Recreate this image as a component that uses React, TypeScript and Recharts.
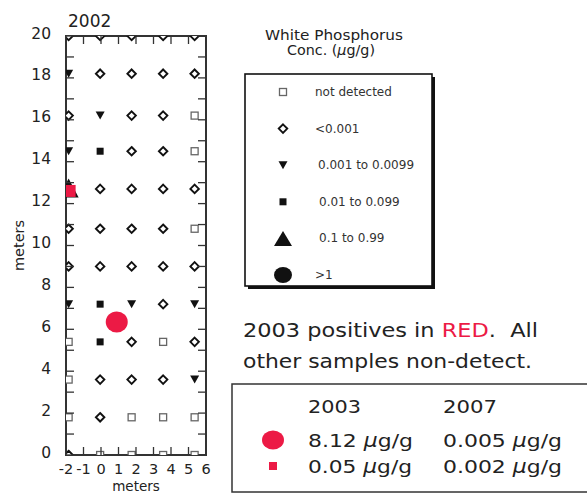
import React from 'react';
import { ScatterChart, Scatter, XAxis, YAxis, ReferenceArea } from 'recharts';

const FONT = '"DejaVu Sans", sans-serif';
const W = 587;
const H = 493;
const PLOT = { left: 66, right: 206, top: 36, bottom: 455 };
const RED = '#ec1a45';

// tick values
const xTicks = [-2, -1, 0, 1, 2, 3, 4, 5, 6];
const yTicks = [0, 1, 2, 3, 4, 5, 6, 7, 8, 9, 10, 11, 12, 13, 14, 15, 16, 17, 18, 19, 20];
const yLabelled = [0, 2, 4, 6, 8, 10, 12, 14, 16, 18, 20];

// 2002 samples, by concentration class (x, y in meters)
const notDetected = [
  { x: 5.35, y: 16.2 }, { x: 5.35, y: 14.5 }, { x: 5.35, y: 10.8 },
  { x: -1.85, y: 5.4 }, { x: 3.55, y: 5.4 },
  { x: -1.85, y: 3.6 },
  { x: -1.85, y: 1.8 }, { x: 1.75, y: 1.8 }, { x: 3.55, y: 1.8 }, { x: 5.35, y: 1.8 },
  { x: -0.05, y: 0 }, { x: 1.75, y: 0 }, { x: 3.55, y: 0 }, { x: 5.35, y: 0 },
];
const below0001 = [
  { x: -1.85, y: 20 }, { x: -0.05, y: 20 }, { x: 1.75, y: 20 }, { x: 3.55, y: 20 }, { x: 5.35, y: 20 },
  { x: -0.05, y: 18.2 }, { x: 1.75, y: 18.2 }, { x: 3.55, y: 18.2 }, { x: 5.35, y: 18.2 },
  { x: -1.85, y: 16.2 }, { x: 1.75, y: 16.2 }, { x: 3.55, y: 16.2 },
  { x: 1.75, y: 14.5 }, { x: 3.55, y: 14.5 },
  { x: -0.05, y: 12.7 }, { x: 1.75, y: 12.7 }, { x: 3.55, y: 12.7 }, { x: 5.35, y: 12.7 },
  { x: -1.85, y: 10.8 }, { x: -0.05, y: 10.8 }, { x: 1.75, y: 10.8 }, { x: 3.55, y: 10.8 },
  { x: -1.85, y: 9.0 }, { x: -0.05, y: 9.0 }, { x: 1.75, y: 9.0 }, { x: 3.55, y: 9.0 }, { x: 5.35, y: 9.0 },
  { x: 3.55, y: 7.2 },
  { x: 1.75, y: 5.4 }, { x: 5.35, y: 5.4 },
  { x: -0.05, y: 3.6 }, { x: 1.75, y: 3.6 }, { x: 3.55, y: 3.6 },
  { x: -0.05, y: 1.8 },
  { x: -1.85, y: 0 },
];
const range0001to00099 = [
  { x: -1.85, y: 18.2 }, { x: -0.05, y: 16.2 }, { x: -1.85, y: 14.5 },
  { x: -1.85, y: 7.2 }, { x: 1.75, y: 7.2 }, { x: 5.35, y: 7.2 }, { x: 5.35, y: 3.6 },
];
const range001to0099 = [{ x: -0.05, y: 14.5 }, { x: -0.05, y: 7.2 }, { x: -0.05, y: 5.4 }];
const range01to099 = [{ x: -1.85, y: 12.7 }];
const above1: { x: number; y: number }[] = [];

// 2003 positives (red)
const red2003Circle = [{ x: 0.9, y: 6.35 }];
const red2003Square = [{ x: -1.85, y: 12.7 }];

// legend
const legendLabels = ['not detected', '<0.001', '0.001 to 0.0099', '0.01 to 0.099', '0.1 to 0.99', '>1'];
const legendKinds = ['open', 'diamond', 'down', 'filled', 'up', 'dot'];
const legendIndent = [0, 0, 3, 4, 4, 0];

// bottom table
const tableYears = ['2003', '2007'];
const tableCircle = ['8.12', '0.005'];
const tableSquare = ['0.05', '0.002'];

const OpenSquare = ({ cx, cy, s = 7 }: any) => (
  <rect x={cx - s / 2} y={cy - s / 2} width={s} height={s} fill="#fff" stroke="#666" strokeWidth={1.3} />
);
const Diamond = ({ cx, cy, s = 8.5 }: any) => (
  <polygon
    points={`${cx},${cy - s / 2} ${cx + s / 2},${cy} ${cx},${cy + s / 2} ${cx - s / 2},${cy}`}
    fill="#fff" stroke="#111" strokeWidth={1.9}
  />
);
const DownTri = ({ cx, cy, w = 9, h = 8 }: any) => (
  <polygon points={`${cx - w / 2},${cy - h / 2} ${cx + w / 2},${cy - h / 2} ${cx},${cy + h / 2}`} fill="#111" />
);
const UpTri = ({ cx, cy, w = 17, h = 14 }: any) => (
  <polygon points={`${cx - w / 2},${cy + h / 2} ${cx + w / 2},${cy + h / 2} ${cx},${cy - h / 2}`} fill="#111" />
);
const FilledSquare = ({ cx, cy, s = 7, fill = '#111' }: any) => (
  <rect x={cx - s / 2} y={cy - s / 2} width={s} height={s} fill={fill} />
);
const Dot = ({ cx, cy, rx = 9, ry = 8, fill = '#111' }: any) => (
  <ellipse cx={cx} cy={cy} rx={rx} ry={ry} fill={fill} />
);

const legendShape = (kind: string, cx: number, cy: number) => {
  switch (kind) {
    case 'open': return <OpenSquare cx={cx} cy={cy} />;
    case 'diamond': return <Diamond cx={cx} cy={cy} />;
    case 'down': return <DownTri cx={cx} cy={cy} />;
    case 'filled': return <FilledSquare cx={cx} cy={cy} />;
    case 'up': return <UpTri cx={cx} cy={cy} w={18} h={15} />;
    default: return <Dot cx={cx} cy={cy} rx={9} ry={8} />;
  }
};

const renderXTick = (props: any) => {
  const { x, payload } = props;
  return (
    <g>
      <line x1={x} x2={x} y1={PLOT.bottom} y2={PLOT.bottom - 8} stroke="#333" strokeWidth={1.3} />
      <line x1={x} x2={x} y1={PLOT.top} y2={PLOT.top + 8} stroke="#333" strokeWidth={1.3} />
      <text x={x} y={474} textAnchor="middle" fontFamily={FONT} fontSize={14.5} fill="#222">
        {payload.value}
      </text>
    </g>
  );
};

const renderYTick = (props: any) => {
  const { y, payload } = props;
  const show = yLabelled.includes(payload.value);
  return (
    <g>
      <line x1={PLOT.left} x2={PLOT.left + 8} y1={y} y2={y} stroke="#333" strokeWidth={1.3} />
      <line x1={PLOT.right} x2={PLOT.right - 8} y1={y} y2={y} stroke="#333" strokeWidth={1.3} />
      {show && (
        <text x={51} y={y - 2.5} textAnchor="end" dominantBaseline="central" fontFamily={FONT} fontSize={15.5} fill="#222">
          {payload.value}
        </text>
      )}
    </g>
  );
};

const LEG = { x: 245, y: 74, w: 187, h: 212, sym: 283, text: 315, row0: 92, rowStep: 36.6 };

export default function App() {
  return (
    <div style={{ position: 'absolute', left: 0, top: 0, width: W, height: H, background: '#fff', overflow: 'hidden' }}>
      <ScatterChart
        width={W}
        height={H}
        margin={{ top: PLOT.top, right: W - PLOT.right, bottom: 0, left: 0 }}
      >
        <XAxis
          type="number" dataKey="x" domain={[-2, 6]} ticks={xTicks} interval={0}
          allowDataOverflow axisLine={false} tickLine={false} tick={renderXTick} height={H - PLOT.bottom}
          label={{ value: 'meters', position: 'insideBottom', offset: 2.5, style: { fontFamily: FONT, fontSize: 13.5, fill: '#222' } }}
        />
        <YAxis
          type="number" dataKey="y" domain={[0, 20]} ticks={yTicks} interval={0}
          allowDataOverflow axisLine={false} tickLine={false} tick={renderYTick} width={PLOT.left}
          label={{ value: 'meters', angle: -90, position: 'insideLeft', offset: 19, style: { textAnchor: 'middle', fontFamily: FONT, fontSize: 14.5, fill: '#222' } }}
        />
        <ReferenceArea x1={-2} x2={6} y1={0} y2={20} fill="none" fillOpacity={0} stroke="#333" strokeWidth={2} />
        <Scatter data={notDetected} isAnimationActive={false} shape={(p: any) => <OpenSquare cx={p.cx} cy={p.cy} />} />
        <Scatter data={below0001} isAnimationActive={false} shape={(p: any) => <Diamond cx={p.cx} cy={p.cy} />} />
        <Scatter data={range0001to00099} isAnimationActive={false} shape={(p: any) => <DownTri cx={p.cx} cy={p.cy} />} />
        <Scatter data={range001to0099} isAnimationActive={false} shape={(p: any) => <FilledSquare cx={p.cx} cy={p.cy} />} />
        <Scatter data={range01to099} isAnimationActive={false} shape={(p: any) => <UpTri cx={p.cx} cy={p.cy - 1} w={20} h={19} />} />
        <Scatter data={above1} isAnimationActive={false} shape={(p: any) => <Dot cx={p.cx} cy={p.cy} />} />
        <Scatter data={red2003Square} isAnimationActive={false} shape={(p: any) => <FilledSquare cx={p.cx + 1} cy={p.cy + 2} s={12} fill={RED} />} />
        <Scatter data={red2003Circle} isAnimationActive={false} shape={(p: any) => <Dot cx={p.cx} cy={p.cy} rx={11} ry={10.5} fill={RED} />} />
      </ScatterChart>

      <svg width={W} height={H} style={{ position: 'absolute', left: 0, top: 0, pointerEvents: 'none' }}>
        <text x={68} y={27} fontFamily={FONT} fontSize={17} fill="#222">2002</text>

        {/* legend */}
        <text x={334} y={40} textAnchor="middle" fontFamily={FONT} fontSize={13.5} fill="#222" textLength={138} lengthAdjust="spacingAndGlyphs">White Phosphorus</text>
        <text x={331} y={55} textAnchor="middle" fontFamily={FONT} fontSize={13.5} fill="#222" textLength={88} lengthAdjust="spacingAndGlyphs">Conc. (<tspan fontStyle="italic">μ</tspan>g/g)</text>
        <rect x={LEG.x + 3} y={LEG.y + 3} width={LEG.w} height={LEG.h} fill="#111" />
        <rect x={LEG.x} y={LEG.y} width={LEG.w} height={LEG.h} fill="#fff" stroke="#111" strokeWidth={1.6} />
        {legendLabels.map((lab, i) => {
          const cy = LEG.row0 + i * LEG.rowStep;
          return (
            <g key={lab}>
              {legendShape(legendKinds[i], LEG.sym, cy)}
              <text x={LEG.text + legendIndent[i]} y={cy} dominantBaseline="central" fontFamily={FONT} fontSize={12} fill="#333">{lab}</text>
            </g>
          );
        })}

        {/* note */}
        <text x={243} y={337} fontFamily={FONT} fontSize={19} fill="#222" textLength={295} lengthAdjust="spacingAndGlyphs" style={{ whiteSpace: 'pre' }}>
          2003 positives in <tspan fill={RED}>RED</tspan>.  All
        </text>
        <text x={243} y={368} fontFamily={FONT} fontSize={19} fill="#222" textLength={289} lengthAdjust="spacingAndGlyphs">
          other samples non-detect.
        </text>

        {/* bottom table */}
        <rect x={232} y={384} width={400} height={108} fill="none" stroke="#333" strokeWidth={1.5} />
        <text x={308} y={413} fontFamily={FONT} fontSize={18.5} fill="#222" textLength={53} lengthAdjust="spacingAndGlyphs">{tableYears[0]}</text>
        <text x={443} y={413} fontFamily={FONT} fontSize={18.5} fill="#222" textLength={54} lengthAdjust="spacingAndGlyphs">{tableYears[1]}</text>
        <Dot cx={273} cy={440} rx={11} ry={9.5} fill={RED} />
        <FilledSquare cx={273} cy={466} s={8} fill={RED} />
        <text x={308} y={447} fontFamily={FONT} fontSize={18.5} fill="#222" textLength={105} lengthAdjust="spacingAndGlyphs">{tableCircle[0]} <tspan fontStyle="italic">μ</tspan>g/g</text>
        <text x={443} y={447} fontFamily={FONT} fontSize={18.5} fill="#222" textLength={119} lengthAdjust="spacingAndGlyphs">{tableCircle[1]} <tspan fontStyle="italic">μ</tspan>g/g</text>
        <text x={308} y={473} fontFamily={FONT} fontSize={18.5} fill="#222" textLength={104} lengthAdjust="spacingAndGlyphs">{tableSquare[0]} <tspan fontStyle="italic">μ</tspan>g/g</text>
        <text x={443} y={473} fontFamily={FONT} fontSize={18.5} fill="#222" textLength={119} lengthAdjust="spacingAndGlyphs">{tableSquare[1]} <tspan fontStyle="italic">μ</tspan>g/g</text>
      </svg>
    </div>
  );
}
